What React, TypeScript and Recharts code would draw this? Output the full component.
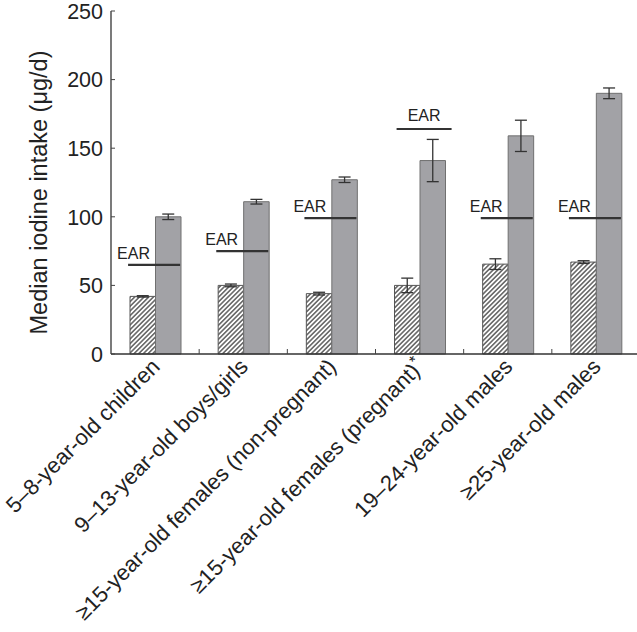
import { Bar, ComposedChart, ErrorBar, Scatter, XAxis, YAxis } from 'recharts';

const categories = [
  '5–8-year-old children',
  '9–13-year-old boys/girls',
  '≥15-year-old females (non-pregnant)',
  '≥15-year-old females (pregnant)*',
  '19–24-year-old males',
  '≥25-year-old males',
];
// hatched bars
const hatchedValues = [42, 50, 44, 50, 65.5, 67];
const hatchedErrors = [0.5, 1, 1, 5.3, 3.9, 1];
// grey bars
const greyValues = [100, 111, 127, 141, 159, 190];
const greyErrors = [2, 1.7, 2, 15.4, 11.4, 3.9];
const earValues = [65, 75, 99, 164, 99, 99];
const yTicks = [0, 50, 100, 150, 200, 250];

const data = categories.map((name, i) => ({
  name,
  hatched: hatchedValues[i],
  hatchedErr: hatchedErrors[i],
  grey: greyValues[i],
  greyErr: greyErrors[i],
  ear: earValues[i],
}));

const FONT = '"Liberation Sans", Arial, Helvetica, sans-serif';
const INK = '#222';

function EarMark(props: any) {
  const { cx, cy, payload } = props;
  if (cx == null || cy == null) return null;
  // when EAR sits above the bars the label is centred over a wider line
  const above = payload.ear > payload.grey;
  const x1 = above ? cx - 23 : cx - 27;
  const x2 = above ? cx + 32 : cx + 25;
  return (
    <g>
      <line x1={x1} x2={x2} y1={cy} y2={cy} stroke="#333" strokeWidth={2.2} />
      <text
        x={above ? (x1 + x2) / 2 : cx - 38}
        y={cy - (above ? 8 : 6)}
        textAnchor={above ? 'middle' : 'start'}
        fontFamily={FONT}
        fontSize={16}
        fill={INK}
      >
        EAR
      </text>
    </g>
  );
}

function CategoryTick(props: any) {
  const { x, y, payload, index } = props;
  const half = payload.offset ?? 44;
  const text: string = payload.value;
  const star = text.endsWith('*');
  const tx = x + 6;
  const ty = y + 14;
  return (
    <g>
      {index < categories.length - 1 && (
        <line x1={x + half} x2={x + half} y1={y} y2={y - 5} stroke="#444" strokeWidth={1} />
      )}
      <text
        x={tx}
        y={ty}
        transform={`rotate(-45, ${tx}, ${ty})`}
        textAnchor="end"
        fontFamily={FONT}
        fontSize={22}
        fill={INK}
      >
        {star ? text.slice(0, -1) : text}
        {star && (
          <tspan fontSize={16} dy={-8}>
            *
          </tspan>
        )}
      </text>
    </g>
  );
}

function ValueTick(props: any) {
  const { x, y, payload } = props;
  return (
    <g>
      <line x1={x} x2={x + 4} y1={y} y2={y} stroke="#444" strokeWidth={1} />
      <text x={x - 8} y={y} dy="0.36em" textAnchor="end" fontFamily={FONT} fontSize={21.5} fill={INK}>
        {payload.value}
      </text>
    </g>
  );
}

function YTitle(props: any) {
  const vb = props.viewBox ?? { x: 0, y: 11, width: 111, height: 343 };
  const x = vb.x + 39;
  const y = vb.y + vb.height / 2 + 10;
  return (
    <text
      x={x}
      y={y}
      transform={`rotate(-90, ${x}, ${y})`}
      textAnchor="middle"
      dominantBaseline="central"
      fontFamily={FONT}
      fontSize={23.5}
      fill={INK}
    >
      Median iodine intake (μg/d)
    </text>
  );
}

export default function App() {
  return (
    <div
      style={{
        position: 'fixed',
        left: 0,
        top: 0,
        width: 637,
        height: 632,
        overflow: 'hidden',
        background: '#fff',
      }}
    >
      <ComposedChart
        width={652}
        height={632}
        data={data}
        margin={{ top: 11, right: 12, left: 0, bottom: 0 }}
        barGap={0}
      >
        <defs>
          <pattern id="hatch" patternUnits="userSpaceOnUse" width={3.3} height={3.3} patternTransform="rotate(45)">
            <rect width={3.3} height={3.3} fill="#fff" />
            <line x1={1.65} x2={1.65} y1={0} y2={3.3} stroke="#222" strokeWidth={1.1} />
          </pattern>
        </defs>
        <XAxis
          dataKey="name"
          height={278}
          interval={0}
          tickSize={0}
          tickMargin={0}
          tickLine={false}
          axisLine={{ stroke: '#333', strokeWidth: 1.3 }}
          tick={<CategoryTick />}
        />
        <YAxis
          width={111}
          domain={[0, 250]}
          ticks={yTicks}
          tickSize={0}
          tickMargin={0}
          tickLine={false}
          axisLine={{ stroke: '#333', strokeWidth: 1.3 }}
          tick={<ValueTick />}
          label={{ content: <YTitle /> }}
        />
        <Bar dataKey="hatched" barSize={25.5} fill="url(#hatch)" stroke="#555" strokeWidth={1} isAnimationActive={false}>
          <ErrorBar dataKey="hatchedErr" width={6} stroke="#333" strokeWidth={1.3} isAnimationActive={false} />
        </Bar>
        <Bar dataKey="grey" barSize={25.5} fill="#a2a2a6" stroke="#707070" strokeWidth={1} isAnimationActive={false}>
          <ErrorBar dataKey="greyErr" width={6} stroke="#333" strokeWidth={1.3} isAnimationActive={false} />
        </Bar>
        <Scatter dataKey="ear" shape={<EarMark />} isAnimationActive={false} />
      </ComposedChart>
    </div>
  );
}
